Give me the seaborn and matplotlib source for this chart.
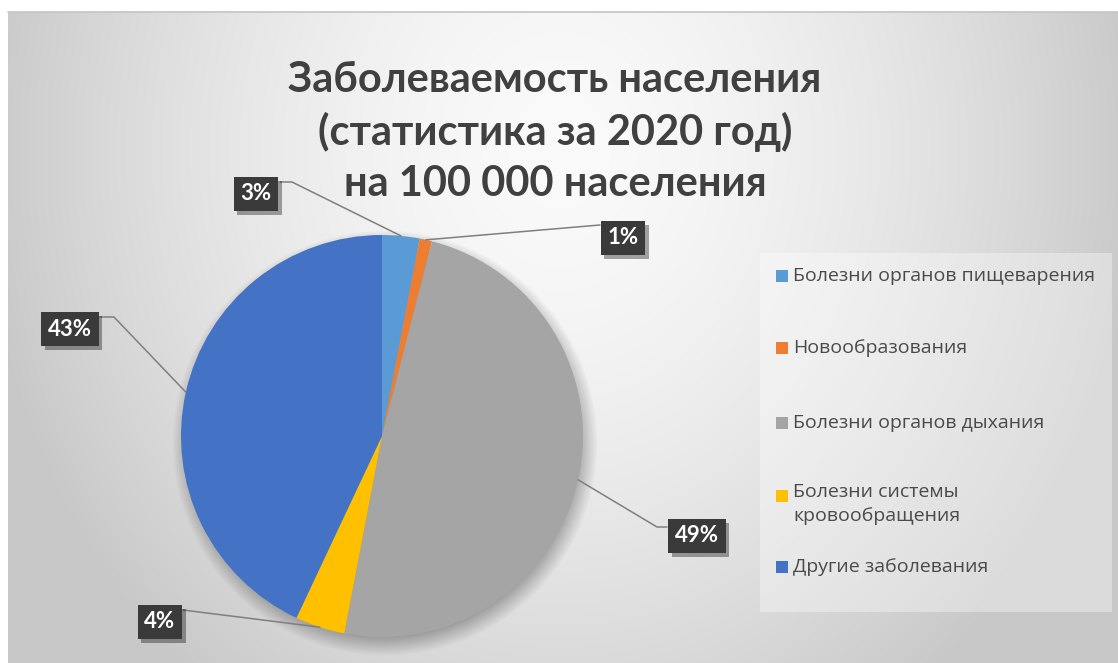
import numpy as np
import matplotlib
matplotlib.use("Agg")
import matplotlib.pyplot as plt
import matplotlib.patheffects as pe
from matplotlib.patches import Rectangle
import seaborn as sns

# ---- data ----
categories = [
    "Болезни органов пищеварения",
    "Новообразования",
    "Болезни органов дыхания",
    "Болезни системы\nкровообращения",
    "Другие заболевания",
]
shares = [3, 1, 49, 4, 43]
colors = ["#5B9BD5", "#ED7D31", "#A5A5A5", "#FFC000", "#4472C4"]
title_lines = [
    "Заболеваемость населения",
    "(статистика за 2020 год)",
    "на 100 000 населения",
]

sns.set_theme(style="white")
plt.rcParams["font.family"] = ["Lato", "Open Sans", "DejaVu Sans"]

W, H = 1118, 663
fig = plt.figure(figsize=(W / 100, H / 100), dpi=100)
fig.patch.set_facecolor("white")
ax = fig.add_axes([0, 0, 1, 1])
ax.set_axis_off()


def Y(y):
    """top-based pixel row -> data y"""
    return H - y


# ---- chart area background (soft radial gradient) ----
x0, y0 = 8, 12
xx, yy = np.meshgrid(np.arange(x0, W) + 0.5, np.arange(y0, H) + 0.5)
r = np.sqrt(((xx - 560) / 600) ** 2 + ((yy - 150) / 700) ** 2)
val = np.clip(250 - 52 * r ** 1.6, 200, 250) / 255.0
bg = np.dstack([val, val, val])
ax.imshow(bg, extent=(x0, W, Y(H), Y(y0)), origin="upper", zorder=0,
          interpolation="bilinear")
ax.plot([x0, W], [Y(y0), Y(y0)], color="#c4c4c4", lw=1.2, zorder=1)

# ---- pie ----
cx, cy, R = 382, 436, 201

# soft drop shadow under the pie
sx, sy = cx + 3, cy + 7
ext = R + 30
gx, gy = np.meshgrid(np.arange(sx - ext, sx + ext) + 0.5,
                     np.arange(sy - ext, sy + ext) + 0.5)
d = np.sqrt((gx - sx) ** 2 + (gy - sy) ** 2)
alpha = np.clip((R + 12 - d) / 24, 0, 1) * 0.35
shadow = np.zeros(d.shape + (4,))
shadow[..., 3] = alpha
ax.imshow(shadow, extent=(sx - ext, sx + ext, Y(sy + ext), Y(sy - ext)),
          origin="upper", zorder=2, interpolation="bilinear")

wedges, _ = ax.pie(shares, colors=colors, startangle=90, counterclock=False,
                   center=(cx, Y(cy)), radius=R, frame=True,
                   wedgeprops=dict(linewidth=0, zorder=3))
for w in wedges:
    w.set_zorder(3)

ax.set_xlim(0, W)
ax.set_ylim(0, H)
ax.set_aspect("equal")
ax.set_axis_off()

# ---- data labels with leader lines ----
label_pos = [(256, 194), (623, 238), (697, 536), (160, 622), (70, 329)]
line_paths = [
    [(280, 182), (292, 182)],
    [(600, 225)],
    [(667, 527), (657, 527)],
    [(183, 610)],
    [(100, 317), (114, 317)],
]
for w, v, (lx, ly), path in zip(wedges, shares, label_pos, line_paths):
    mid = np.deg2rad((w.theta1 + w.theta2) / 2)
    ex = cx + R * np.cos(mid)
    ey = Y(cy) + R * np.sin(mid)
    xs = [p[0] for p in path] + [ex]
    ys = [Y(p[1]) for p in path] + [ey]
    ax.plot(xs, ys, color="#7f7f7f", lw=1.1, zorder=4)
    t = ax.text(lx, Y(ly), f"{v}%", ha="center", va="center",
                fontsize=16, fontweight="bold", color="white", zorder=6,
                bbox=dict(boxstyle="square,pad=0.3", fc="#3a3a3a",
                          ec="none"))
    t.get_bbox_patch().set_path_effects([
        pe.SimplePatchShadow(offset=(2.5, -3), shadow_rgbFace="black",
                             alpha=0.35),
        pe.Normal(),
    ])

# ---- title ----
for i, line in enumerate(title_lines):
    ax.text(555, Y(80 + 52 * i), line, ha="center", va="center",
            fontsize=30, fontweight="bold", color="#404040", zorder=5)

# ---- legend ----
ax.add_patch(Rectangle((760, Y(612)), 352, 612 - 253, fc="white",
                       ec="none", alpha=0.35, zorder=2))
legend_rows = [276, 348, 423, 496, 567]
legend_font = dict(fontsize=14, color="#4a4a4a", zorder=5, linespacing=1.4,
                   family=["Open Sans", "DejaVu Sans"])
for name, c, ry in zip(categories, colors, legend_rows):
    ax.add_patch(Rectangle((776, Y(ry) - 6), 12, 12, fc=c, ec="none",
                           zorder=5))
    if "\n" in name:
        ax.text(793, Y(ry) + 13, name, ha="left", va="top", **legend_font)
    else:
        ax.text(793, Y(ry), name, ha="left", va="center", **legend_font)

fig.savefig("out.png", dpi=100, facecolor="white")
